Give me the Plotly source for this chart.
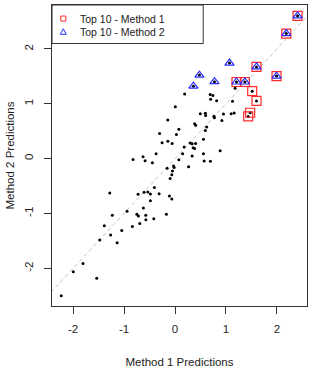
import numpy as np
import plotly.graph_objects as go

# ---- data ----
method1 = [
    2.405, 2.183, 1.599, 1.992, 1.206, 1.371, 1.069, 0.479, 0.774, 0.361,
    1.515, 1.599, 1.475, 1.436,
    0.189, 0.690, 0.743, 0.699, 0.817, 1.128, 1.180, 0.006, 0.497, 0.595,
    0.601, 0.764, 0.772, 0.951, 1.102, 1.161, 0.919, -0.141, 0.385, 0.405,
    0.075, 0.621, 0.595, -0.303, 0.028, -0.141, -0.253, -0.057, 0.558, 0.297,
    0.336, 0.405, 0.356, 0.385, 0.179, 0.149, 0.336, 0.558, 0.886, -0.371,
    -0.823, -0.627, -0.587, -0.444, 0.075, 0.572, 0.695, 0.267, -0.155, -0.028,
    -0.018, -0.051, -0.063, -0.096, -0.405, -0.534, -0.725, -0.607, -0.483, -0.312,
    -0.110, -0.063, -1.281, -0.483, -0.621, -0.941, -0.749, -0.719, -0.574, -0.572,
    -1.230, -0.169, -0.417, -0.692, -0.837, -1.387, -1.045, -1.263, -1.477, -1.136,
    -1.806, -1.996, -1.536, -2.232,
]
method2 = [
    2.602, 2.279, 1.671, 1.504, 1.397, 1.397, 1.742, 1.522, 1.402, 1.320,
    1.230, 1.051, 0.836, 0.770,
    1.178, 1.169, 1.150, 1.083, 1.053, 1.047, 1.284, 0.944, 0.818, 0.827,
    0.788, 0.774, 0.743, 0.815, 0.818, 0.833, 0.693, 0.704, 0.636, 0.609,
    0.537, 0.577, 0.514, 0.457, 0.439, 0.317, 0.290, 0.274, 0.355, 0.283,
    0.269, 0.274, 0.197, 0.184, 0.211, 0.090, 0.048, 0.090, 0.143, 0.090,
    -0.018, 0.032, -0.039, -0.075, -0.021, -0.041, -0.048, -0.147, -0.174, -0.134,
    -0.161, -0.224, -0.292, -0.363, -0.525, -0.609, -0.650, -0.614, -0.645, -0.639,
    -0.680, -0.734, -0.627, -0.770, -0.901, -0.958, -1.015, -1.044, -1.030, -1.114,
    -1.033, -1.015, -1.098, -1.184, -1.238, -1.223, -1.312, -1.393, -1.481, -1.533,
    -1.910, -2.064, -2.179, -2.501,
]
x_ticks = [-2, -1, 0, 1, 2]
x_tick_labels = ["-2", "-1", "0", "1", "2"]
y_ticks = [-2, -1, 0, 1, 2]
y_tick_labels = ["-2", "-1", "0", "1", "2"]
legend_labels = ["Top 10 - Method 1", "Top 10 - Method 2"]
identity_line = [-3, 3]
n_top = 10

m1 = np.array(method1)
m2 = np.array(method2)
top1 = np.argsort(-m1)[:n_top]
top2 = np.argsort(-m2)[:n_top]

FONT = "Liberation Sans, Arial, sans-serif"
TXT = "#222222"
AX = "#333333"
RED = "#ff2a2a"
BLUE = "#2a2aff"

fig = go.Figure()
fig.add_trace(go.Scatter(
    x=identity_line, y=identity_line, mode="lines",
    line=dict(color="#c4c4c4", width=1, dash="4px,3px"),
    hoverinfo="skip", showlegend=False))
fig.add_trace(go.Scatter(
    x=m1, y=m2, mode="markers",
    marker=dict(color="black", size=3, line=dict(width=0)),
    showlegend=False, name="predictions"))
fig.add_trace(go.Scatter(
    x=m1[top1], y=m2[top1], mode="markers", name=legend_labels[0],
    marker=dict(symbol="square-open", color=RED, size=9, line=dict(width=1.2, color=RED)),
    showlegend=False))
fig.add_trace(go.Scatter(
    x=m1[top2], y=m2[top2], mode="markers", name=legend_labels[1],
    marker=dict(symbol="triangle-up-open", color=BLUE, size=8, line=dict(width=1.2, color=BLUE)),
    showlegend=False))

axis_common = dict(
    ticks="outside", ticklen=7, tickwidth=1, tickcolor=AX,
    showline=True, linecolor=AX, linewidth=1, mirror=True,
    showgrid=False, zeroline=False,
    tickfont=dict(family=FONT, size=11.5, color=TXT),
)

fig.update_layout(
    width=334, height=371,
    margin=dict(l=52, r=27, t=4, b=60),
    paper_bgcolor="white", plot_bgcolor="white",
    showlegend=False,
    xaxis=dict(range=[-2.414, 2.59], tickvals=x_ticks, ticktext=x_tick_labels,
               ticklabelstandoff=5,
               title=dict(text="Method 1 Predictions", font=dict(family=FONT, size=11.5, color=TXT), standoff=24),
               **axis_common),
    yaxis=dict(range=[-2.686, 2.80], tickvals=y_ticks, ticktext=y_tick_labels, tickangle=-90,
               ticklabelstandoff=6,
               title=dict(text="Method 2 Predictions", font=dict(family=FONT, size=11.5, color=TXT), standoff=6),
               **axis_common),
)

# legend box (drawn manually to match compact R legend)
fig.add_shape(type="rect", xref="paper", yref="paper", x0=0, x1=0.593, y0=0.872, y1=1,
              line=dict(color=AX, width=1), fillcolor="white", layer="above")
rows_y = [0.955, 0.911]
fig.add_shape(type="rect", xref="paper", yref="paper", xsizemode="pixel", ysizemode="pixel",
              xanchor=0.0443, yanchor=rows_y[0], x0=-2.5, x1=2.5, y0=-2.5, y1=2.5,
              line=dict(color=RED, width=1), layer="above")
fig.add_shape(type="path", xref="paper", yref="paper", xsizemode="pixel", ysizemode="pixel",
              xanchor=0.0443, yanchor=rows_y[1], path="M-3,-2.5 L3,-2.5 L0,3 Z",
              line=dict(color=BLUE, width=1), layer="above")
for lab, yy in zip(legend_labels, rows_y):
    fig.add_annotation(x=0.103, y=yy, xref="paper", yref="paper", text=lab, showarrow=False,
                       xanchor="left", yanchor="middle", font=dict(family=FONT, size=10.5, color=TXT))

fig.write_html("out.html")
